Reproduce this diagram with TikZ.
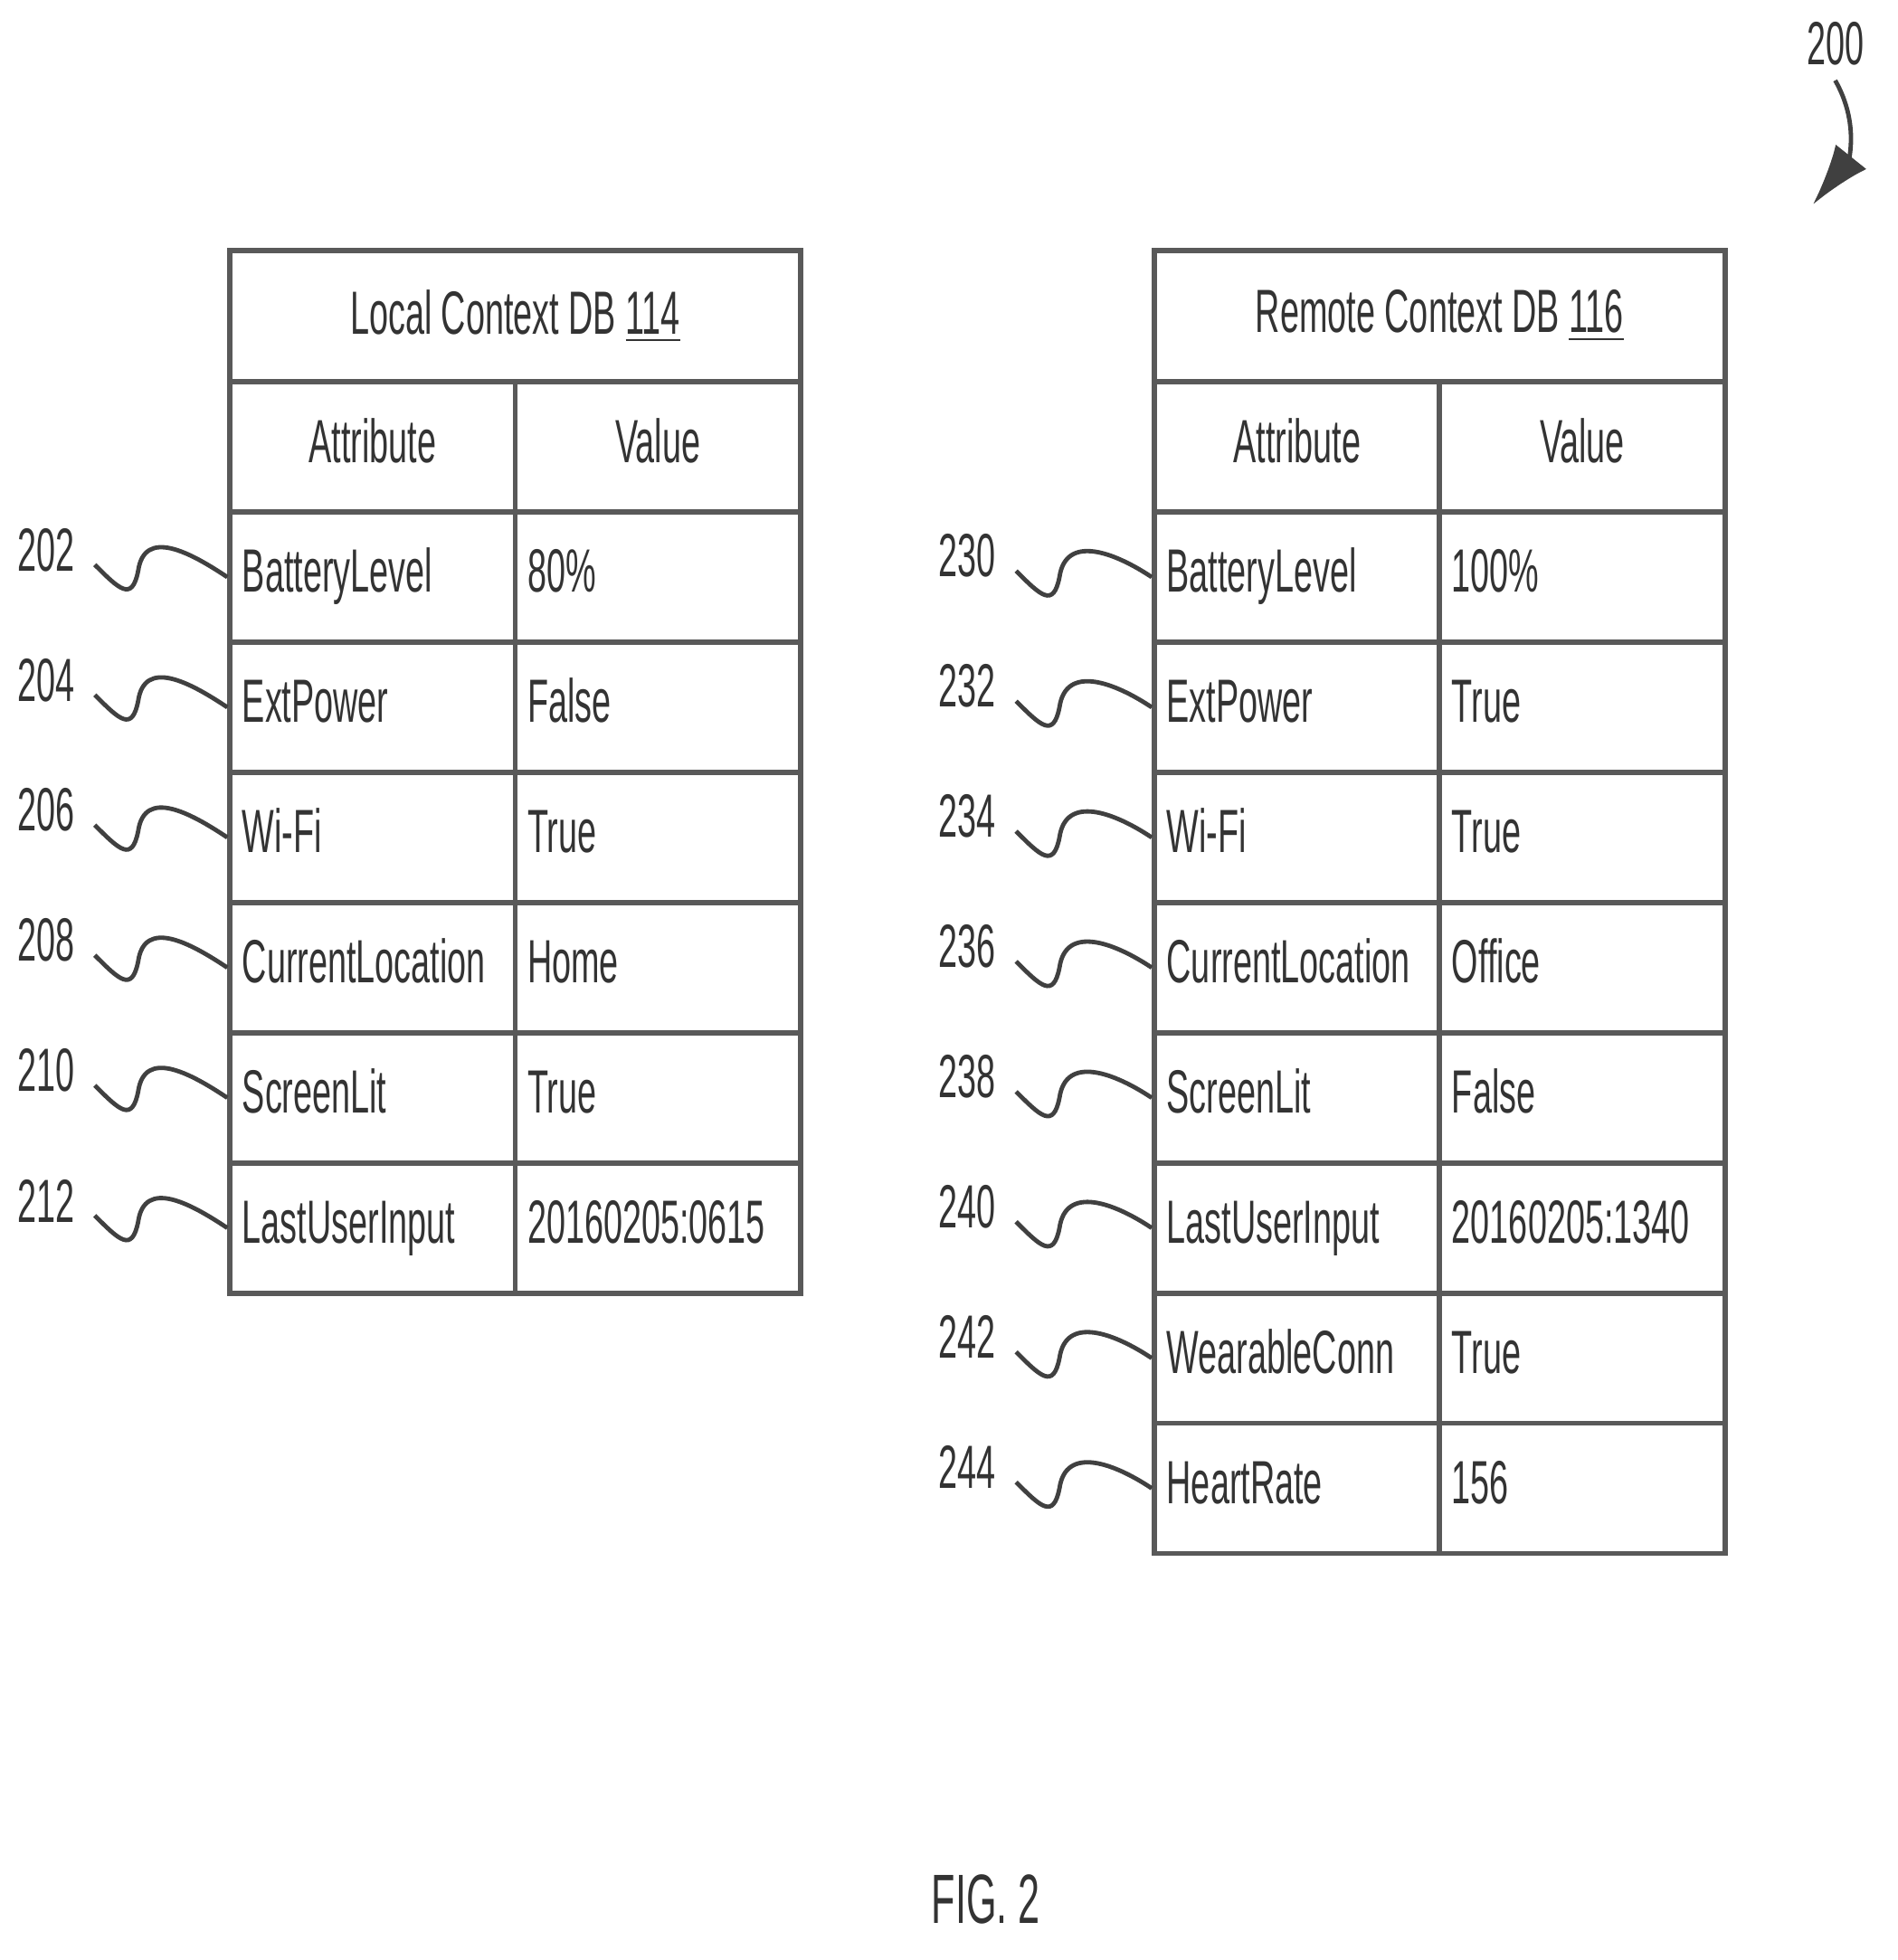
\documentclass[tikz,border=0pt]{standalone}
\usepackage{fontspec}
\setmainfont{Liberation Sans}[FakeStretch=0.56]
\usetikzlibrary{arrows.meta}
\begin{document}
\begin{tikzpicture}[x=0.01cm, y=-0.01cm,
	every node/.style={font=\fontsize{14}{16}\selectfont, text=black!80},
	cell/.style={rectangle, draw=black!65, line width=1.2pt, minimum width=2.3cm, minimum height=1.05cm, text width=2.1cm, inner xsep=0.1cm, text height=10pt, text depth=3pt, align=left},
	head/.style={cell, align=center},
	title/.style={rectangle, draw=black!65, line width=1.2pt, minimum width=4.6cm, minimum height=1.06cm, align=center},
	lead/.style={black!75, line width=1pt}]
	\useasboundingbox (0,0) rectangle (1530,1581);

	% local table
	\node[title] (ltitle) at (415.5,255) {Local Context DB \underline{114}};
	\node[head] (lha) at (300.5,360.5) {Attribute};
	\node[head] (lhv) at (530.5,360.5) {Value};
	\foreach \attr/\val/\num [count=\i] in {BatteryLevel/80\%/202, ExtPower/False/204, Wi-Fi/True/206,
			CurrentLocation/Home/208, ScreenLit/True/210, LastUserInput/20160205:0615/212}
	{
		\node[cell] (la\i) at (300.5,360.5+105*\i) {\attr};
		\node[cell] (lv\i) at (530.5,360.5+105*\i) {\val};
		\node (ln\i) at (37,360.5+105*\i-22) {\num};
		\draw[lead] ([shift={(4,12)}]ln\i.east) .. controls +(20,20) and +(-5,25) .. +(35,5)
			.. controls +(5,-35) and +(-30,-20) .. (la\i.west);
	}

	% remote table
	\node[title] (rtitle) at (1161,255) {Remote Context DB \underline{116}};
	\node[head] (rha) at (1046,360.5) {Attribute};
	\node[head] (rhv) at (1276,360.5) {Value};
	\foreach \attr/\val/\num [count=\i] in {BatteryLevel/100\%/230, ExtPower/True/232, Wi-Fi/True/234,
			CurrentLocation/Office/236, ScreenLit/False/238, LastUserInput/20160205:1340/240,
			WearableConn/True/242, HeartRate/156/244}
	{
		\node[cell] (ra\i) at (1046,360.5+105*\i) {\attr};
		\node[cell] (rv\i) at (1276,360.5+105*\i) {\val};
		\node (rn\i) at (780,360.5+105*\i-17) {\num};
		\draw[lead] ([shift={(4,12)}]rn\i.east) .. controls +(20,20) and +(-5,25) .. +(35,5)
			.. controls +(5,-35) and +(-30,-20) .. (ra\i.west);
	}

	% figure reference
	\node (ref) at (1480,35) {200};
	\coordinate (refend) at (1462,165);
	\draw[lead, -{Latex[length=14pt,width=9pt]}] (ref.south) .. controls (1500,100) and (1490,130) .. (refend);

	\node[font=\fontsize{16}{18}\selectfont] (fig) at (795,1532) {FIG. 2};
\end{tikzpicture}
\end{document}
